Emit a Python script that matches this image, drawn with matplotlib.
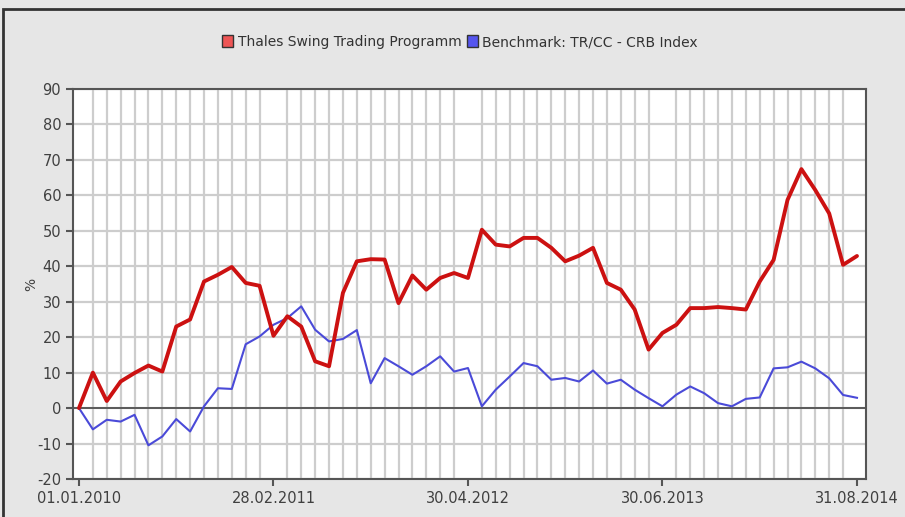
import numpy as np
import matplotlib
matplotlib.use("Agg")
import matplotlib.pyplot as plt
from matplotlib.patches import Rectangle

plt.rcParams["axes.unicode_minus"] = False

# monthly points, 01.01.2010 .. 31.08.2014 (index 0..56)
thales = [0, 10, 2, 7.5, 9.9, 12, 10.3, 23, 25, 35.7, 37.6, 39.8, 35.3,
          34.5, 20.4, 25.9, 23, 13.2, 11.8, 32.5, 41.4, 42, 41.9, 29.6, 37.4,
          33.4, 36.7, 38.1, 36.7, 50.3, 46.1, 45.6, 48, 48, 45.2, 41.4, 43,
          45.2, 35.3, 33.4, 27.8, 16.5, 21.2, 23.5, 28.2, 28.2, 28.5, 28.2, 27.8,
          35.7, 41.8, 58.7, 67.4, 61.5, 54.9, 40.4, 42.9]
crb = [0, -6, -3.3, -3.8, -1.9, -10.5, -8, -3.1, -6.6, 0.5, 5.6, 5.4, 18,
       20.2, 23.5, 25.4, 28.7, 22.1, 18.8, 19.5, 22, 7, 14.1, 11.8, 9.4,
       11.8, 14.6, 10.3, 11.3, 0.5, 5.2, 8.9, 12.7, 11.8, 8, 8.5, 7.5,
       10.6, 6.9, 8, 5.2, 2.8, 0.5, 3.8, 6.1, 4.2, 1.4, 0.5, 2.6,
       3, 11.2, 11.5, 13.1, 11.2, 8.4, 3.7, 2.9]
tick_pos = [0, 14, 28, 42, 56]
tick_labels = ["01.01.2010", "28.02.2011", "30.04.2012", "30.06.2013", "31.08.2014"]
names = ["Thales Swing Trading Programm", "Benchmark: TR/CC - CRB Index"]

BG = "#e6e6e6"
GRID = "#cdcdcd"
TXT = "#404040"

fig = plt.figure(figsize=(9.05, 5.17), dpi=100, facecolor=BG)
ax = fig.add_axes([73 / 905, 1 - 479 / 517, 793 / 905, 390 / 517])
ax.set_facecolor("white")

x = np.arange(len(thales))
ax.set_xticks(x, minor=True)
ax.set_yticks(np.arange(-20, 91, 10))
ax.grid(which="minor", axis="x", color=GRID, lw=1.6)
ax.grid(which="major", axis="y", color=GRID, lw=1.6)
ax.set_axisbelow(True)
ax.axhline(0, color="#3a3a3a", lw=1.1, zorder=2)

ax.plot(x, thales, color="#cc1111", lw=2.8, zorder=4, solid_capstyle="round")
ax.plot(x, crb, color="#4a4ad8", lw=1.5, zorder=3)

ax.set_xlim(-0.43, 56.65)
ax.set_ylim(-20, 90)
ax.set_xticks(tick_pos)
ax.set_xticklabels(tick_labels)
ax.tick_params(which="minor", length=0)
ax.tick_params(which="major", colors="#555555", labelcolor=TXT, labelsize=10.5,
               length=5, width=1.5)
for s in ax.spines.values():
    s.set_color("#555555")
    s.set_linewidth(1.5)
ax.set_ylabel("%", color=TXT, fontsize=10, labelpad=-1)

# legend at top
handles = [Rectangle((0, 0), 1, 1, fc="#ee5555", ec="#333333", lw=1),
           Rectangle((0, 0), 1, 1, fc="#5555ee", ec="#333333", lw=1)]
fig.legend(handles, names, loc="center", bbox_to_anchor=(460 / 905, 1 - 42 / 517),
           ncol=2, frameon=False, fontsize=10, handlelength=0.8, handleheight=0.9,
           handletextpad=0.3, columnspacing=0.4, labelcolor="#333333")

# outer chart frame (top / left edges)
fig.patches.append(Rectangle((3 / 905, -0.1), 1.2, 1 - 9 / 517 + 0.1,
                             transform=fig.transFigure, fill=False,
                             ec="#333333", lw=2))

fig.savefig("out.png", dpi=100, facecolor=BG)
